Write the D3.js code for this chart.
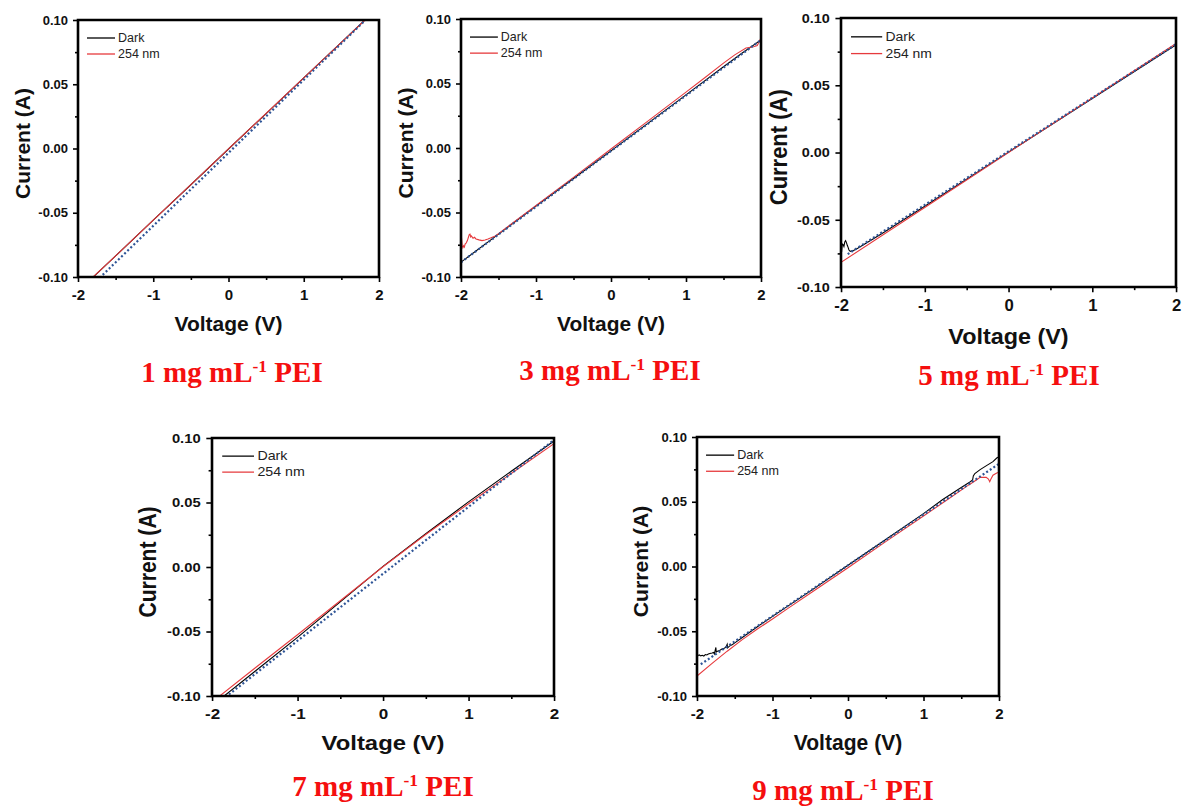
<!DOCTYPE html>
<html><head><meta charset="utf-8">
<script src="https://cdn.jsdelivr.net/npm/d3@7"></script>
<style>body{margin:0;background:#fff} svg{display:block}</style>
</head><body>
<svg id="c" width="1183" height="809"></svg>
<script>
// ---------- data ----------
const concentrations = ["1", "3", "5", "7", "9"];
const seriesNames = ["Dark", "254 nm"];
const voltageTicks = [-2, -1, 0, 1, 2];
const voltageMinor = [-1.5, -0.5, 0.5, 1.5];
const currentTicks = [-0.10, -0.05, 0.00, 0.05, 0.10];
const currentMinor = [-0.075, -0.025, 0.025, 0.075];

// 1 mg/mL
const light1 = [[-2,-0.1110],[-1.5,-0.0835],[-1,-0.0557],[-0.5,-0.0281],[0,-0.0003],[0.5,0.0273],[1,0.0549],[1.5,0.0826],[2,0.1104]];
const dark1  = [[-2,-0.1112],[-1.5,-0.0836],[-1,-0.0558],[-0.5,-0.0282],[0,-0.0004],[0.5,0.0272],[1,0.0549],[1.5,0.0826],[2,0.1103]];
const fit1   = [[-2,-0.1170],[2,0.1102]];
// 3 mg/mL
const dark2  = [[-2,-0.0885],[-1.5,-0.0668],[-1,-0.0451],[-0.5,-0.0236],[0,-0.0022],[0.5,0.0195],[1,0.0412],[1.5,0.0630],[1.75,0.0736],[2,0.0838]];
const light2 = [[-2,-0.0640],[-1.994,-0.0690],[-1.985,-0.0755],[-1.975,-0.0772],[-1.965,-0.0758],[-1.955,-0.0768],[-1.945,-0.0745],[-1.93,-0.0735],[-1.915,-0.0718],[-1.90,-0.0690],[-1.89,-0.0672],[-1.88,-0.0668],[-1.87,-0.0690],[-1.86,-0.0682],[-1.84,-0.0700],[-1.82,-0.0692],[-1.80,-0.0705],[-1.76,-0.0712],[-1.72,-0.0718],[-1.68,-0.0713],[-1.64,-0.0705],[-1.60,-0.0696],[-1.55,-0.0684],[-1.5,-0.0664],[-1,-0.0446],[-0.5,-0.0228],[0,-0.0008],[0.5,0.0212],[1,0.0433],[1.25,0.0545],[1.5,0.0658],[1.65,0.0722],[1.8,0.0775],[1.9,0.0785],[1.95,0.0795],[2,0.0852]];
const fit2   = [[-2,-0.0886],[2,0.0838]];
// 5 mg/mL
const light3 = [[-2,-0.0817],[-1,-0.0409],[0,0.0000],[1,0.0405],[2,0.0810]];
const dark3  = [[-2,-0.0620],[-1.997,-0.0700],[-1.993,-0.0740],[-1.985,-0.0680],[-1.975,-0.0685],[-1.965,-0.0700],[-1.955,-0.0665],[-1.945,-0.0655],[-1.935,-0.0670],[-1.925,-0.0690],[-1.915,-0.0705],[-1.905,-0.0725],[-1.89,-0.0735],[-1.85,-0.0728],[-1.8,-0.0712],[-1.5,-0.0598],[-1,-0.0399],[0,0.0003],[1,0.0402],[2,0.0800]];
const fit3   = [[-1.92,-0.0756],[2,0.0804]];
// 7 mg/mL
const dark4  = [[-2,-0.1075],[-1.5,-0.0810],[-1,-0.0545],[-0.5,-0.0270],[0,0.0005],[0.5,0.0258],[1,0.0505],[1.5,0.0742],[2,0.0977]];
const light4 = [[-2,-0.1047],[-1.5,-0.0785],[-1,-0.0525],[-0.5,-0.0262],[0,0.0002],[0.5,0.0252],[1,0.0490],[1.5,0.0725],[2,0.0956]];
const fit4   = [[-2,-0.1091],[2,0.0985]];
// 9 mg/mL
const dark5  = [[-2,-0.0755],[-1.998,-0.0705],[-1.99,-0.0688],[-1.97,-0.0683],[-1.95,-0.0690],[-1.93,-0.0686],[-1.91,-0.0692],[-1.89,-0.0680],[-1.87,-0.0683],[-1.85,-0.0676],[-1.83,-0.0672],[-1.80,-0.0668],[-1.78,-0.0664],[-1.77,-0.0675],[-1.76,-0.0650],[-1.75,-0.0625],[-1.745,-0.0660],[-1.73,-0.0655],[-1.70,-0.0648],[-1.67,-0.0638],[-1.64,-0.0632],[-1.62,-0.0625],[-1.60,-0.0600],[-1.595,-0.0628],[-1.57,-0.0615],[-1.53,-0.0602],[-1.5,-0.0590],[-1.4,-0.0548],[-1.2,-0.0465],[-1,-0.0385],[-0.5,-0.0190],[0,0.0010],[0.5,0.0208],[1,0.0408],[1.25,0.0515],[1.5,0.0610],[1.62,0.0655],[1.65,0.0668],[1.66,0.0700],[1.68,0.0718],[1.75,0.0748],[1.85,0.0785],[1.92,0.0810],[1.97,0.0838],[2,0.0848]];
const light5 = [[-2,-0.0846],[-1.8,-0.0748],[-1.6,-0.0654],[-1.4,-0.0565],[-1.2,-0.0483],[-1,-0.0405],[-0.8,-0.0325],[-0.5,-0.0207],[0,-0.0010],[0.5,0.0192],[1,0.0390],[1.3,0.0510],[1.6,0.0630],[1.7,0.0668],[1.75,0.0688],[1.83,0.0688],[1.86,0.0675],[1.877,0.0655],[1.89,0.0672],[1.92,0.0705],[1.97,0.0722],[2,0.0728]];
const fit5   = [[-1.95,-0.0755],[2,0.0793]];

const panelData = [
  {dark: dark1, light: light1, fit: fit1},
  {dark: dark2, light: light2, fit: fit2},
  {dark: dark3, light: light3, fit: fit3},
  {dark: dark4, light: light4, fit: fit4},
  {dark: dark5, light: light5, fit: fit5}
];

// ---------- layout ----------
const layout = [
  {left: 78,  top: 20,  w: 301, h: 257, tx: 232,  ty: 382},
  {left: 461, top: 19,  w: 300, h: 258, tx: 610,  ty: 380},
  {left: 841, top: 18,  w: 335, h: 269, tx: 1009, ty: 385},
  {left: 212, top: 438, w: 342, h: 258, tx: 383,  ty: 796},
  {left: 697, top: 437, w: 302, h: 259, tx: 843,  ty: 800}
];
const W0 = 301, H0 = 257;
const sans = "'Liberation Sans', Arial, Helvetica, sans-serif";
const serif = "'Liberation Serif', 'Times New Roman', serif";

const svg = d3.select("#c");
const x = d3.scaleLinear().domain([-2, 2]).range([0, W0]);
const y = d3.scaleLinear().domain([-0.1, 0.1]).range([H0, 0]);
const line = d3.line().x(d => x(d[0])).y(d => y(d[1]));

layout.forEach((L, i) => {
  const D = panelData[i];
  const g = svg.append("g")
    .attr("transform", `translate(${L.left},${L.top}) scale(${L.w / W0},${L.h / H0})`);

  svg.append("defs").append("clipPath").attr("id", "clip" + i)
    .append("rect").attr("x", 0).attr("y", 0).attr("width", W0).attr("height", H0);

  const plot = g.append("g").attr("clip-path", `url(#clip${i})`);
  plot.append("path").datum(D.dark).attr("d", line)
    .attr("fill", "none").attr("stroke", "#000").attr("stroke-width", 1.1)
    .attr("vector-effect", "non-scaling-stroke");
  plot.append("path").datum(D.light).attr("d", line)
    .attr("fill", "none").attr("stroke", "#e63a3d").attr("stroke-width", 1.1)
    .attr("vector-effect", "non-scaling-stroke");
  plot.append("path").datum(D.fit).attr("d", line)
    .attr("fill", "none").attr("stroke", "#2f5597").attr("stroke-width", 2.2)
    .attr("stroke-dasharray", "2,2.3")
    .attr("vector-effect", "non-scaling-stroke");

  // axes
  const xAx = g.append("g").attr("transform", `translate(0,${H0})`)
    .call(d3.axisBottom(x).tickValues(voltageTicks).tickSize(5).tickPadding(7).tickFormat(d => String(d)));
  const xMin = g.append("g").attr("transform", `translate(0,${H0})`)
    .call(d3.axisBottom(x).tickValues(voltageMinor).tickSize(3).tickFormat(""));
  const yAx = g.append("g")
    .call(d3.axisLeft(y).tickValues(currentTicks).tickSize(5).tickPadding(5).tickFormat(d => d.toFixed(2)));
  const yMin = g.append("g")
    .call(d3.axisLeft(y).tickValues(currentMinor).tickSize(3).tickFormat(""));
  [xAx, xMin, yAx, yMin].forEach(a => {
    a.select(".domain").remove();
    a.selectAll("line").attr("stroke", "#000").attr("stroke-width", 1.6).attr("vector-effect", "non-scaling-stroke");
  });
  xAx.selectAll("text").attr("font-family", sans).attr("font-weight", "bold").attr("font-size", 15).attr("fill", "#111");
  yAx.selectAll("text").attr("font-family", sans).attr("font-weight", "bold").attr("font-size", 13).attr("fill", "#111");

  // frame
  g.append("rect").attr("x", 0).attr("y", 0).attr("width", W0).attr("height", H0)
    .attr("fill", "none").attr("stroke", "#000").attr("stroke-width", 2.6)
    .attr("vector-effect", "non-scaling-stroke");

  // axis titles
  g.append("text").attr("x", W0 / 2).attr("y", H0 + 54).attr("text-anchor", "middle")
    .attr("font-family", sans).attr("font-weight", "bold").attr("font-size", 21).attr("fill", "#111")
    .text("Voltage (V)");
  g.append("text").attr("transform", `translate(-56,${H0 / 2 - 5}) rotate(-90)`)
    .attr("text-anchor", "middle").attr("dominant-baseline", "central")
    .attr("font-family", sans).attr("font-weight", "bold").attr("font-size", 21).attr("fill", "#111")
    .text("Current (A)");

  // legend
  const lg = g.append("g");
  lg.append("rect").attr("x", 6).attr("y", 9).attr("width", 78).attr("height", 34).attr("fill", "#fff");
  const legColors = ["#000", "#e63a3d"];
  seriesNames.forEach((s, k) => {
    const yy = 18 + k * 16;
    lg.append("line").attr("x1", 9).attr("x2", 37).attr("y1", yy).attr("y2", yy)
      .attr("stroke", legColors[k]).attr("stroke-width", 1.3).attr("vector-effect", "non-scaling-stroke");
    lg.append("text").attr("x", 40).attr("y", yy).attr("dominant-baseline", "central")
      .attr("font-family", sans).attr("font-size", 12.5).attr("fill", "#222").text(s);
  });

  // title
  const t = svg.append("text").attr("x", L.tx).attr("y", L.ty).attr("text-anchor", "middle")
    .attr("font-family", serif).attr("font-weight", "bold").attr("font-size", 29).attr("fill", "#f50f0f");
  t.append("tspan").text(concentrations[i] + " mg mL");
  t.append("tspan").attr("font-size", 17.5).attr("dy", -10).text("-1");
  t.append("tspan").attr("dy", 10).text(" PEI");
});
</script>
</body></html>
